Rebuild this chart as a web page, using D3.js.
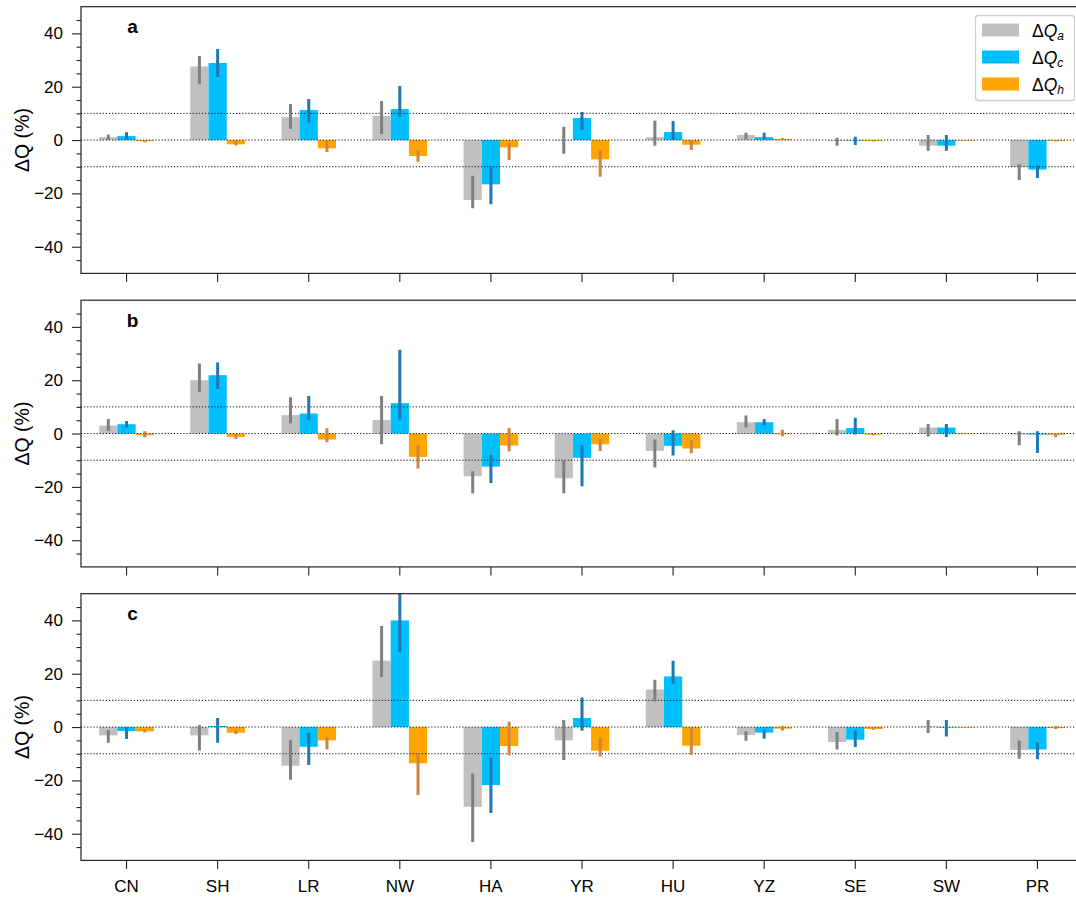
<!DOCTYPE html>
<html>
<head>
<meta charset="utf-8">
<script src="https://cdn.jsdelivr.net/npm/d3@7"></script>
<style>
  html, body { margin: 0; padding: 0; background: #fff; }
  svg { display: block; font-family: "Liberation Sans", Arial, sans-serif; }
</style>
</head>
<body>
<svg id="chart" width="1076" height="899"></svg>
<script>
// ---------------- DATA ----------------
const categories = ["CN","SH","LR","NW","HA","YR","HU","YZ","SE","SW","PR"];
const seriesKeys = ["Qa","Qc","Qh"];
const seriesSubs = ["a","c","h"];
const panelLabels = ["a","b","c"];
const yMajorTicks = [-40,-20,0,20,40];
const refLines = [-10,0,10];

// Panel a
const a_Qa = [1.1, 27.6, 8.6, 9.0, -22.5, 0, 1.1, 1.9, -0.3, -2.1, -10.1];
const a_Qa_err = [[0,2.1],[20.9,31.5],[4.25,13.5],[2.25,14.6],[-25.6,-13.4],[-5.1,5],[-2.1,7.25],[0.3,2.7],[-2.1,0.9],[-4,1.9],[-15,-9.1]];
const a_Qc = [1.5, 28.9, 11.25, 11.6, -16.6, 8.25, 3.0, 1.1, 0, -2.1, -11.1];
const a_Qc_err = [[0.25,2.9],[23.6,34.1],[6.6,15.4],[8.75,20.25],[-24.1,-9.75],[3.75,10.5],[0.25,7.1],[0.25,2.75],[-1.9,1.25],[-4,1.9],[-14.25,-9.5]];
const a_Qh = [-0.4, -1.6, -3.1, -6.0, -2.75, -7.25, -1.75, 0.4, -0.3, 0, -0.3];
const a_Qh_err = [[-0.8,-0.2],[-2,-0.25],[-4.5,-0.25],[-8.1,-4],[-7.5,-1],[-13.75,-3.75],[-3.75,0],[0.1,0.8],[-0.5,-0.1],[0,0],[-0.5,-0.1]];

// Panel b
const b_Qa = [3.0, 20.0, 6.9, 5.1, -16, -16.75, -6.5, 4.25, 1.4, 2.25, -0.4];
const b_Qa_err = [[1,5.5],[15.6,26.25],[3.9,13.6],[-4,14.1],[-22.4,-14.1],[-22.4,-10.1],[-12.75,-2.25],[2.25,6.75],[-0.75,5.5],[-1.1,3.6],[-4.4,0.9]];
const b_Qc = [3.5, 21.9, 7.5, 11.4, -12.4, -9.1, -4.6, 4.25, 2.1, 2.25, -0.4];
const b_Qc_err = [[2.25,4.75],[16.75,26.6],[5,14.1],[5.25,31.4],[-18.5,-8],[-19.75,-4.4],[-8.25,1.25],[3.1,5.5],[-0.4,5.9],[-1.25,3.6],[-7.25,0.9]];
const b_Qh = [-0.6, -1.25, -2.25, -8.75, -4.5, -4.0, -5.6, -0.3, -0.4, 0, -0.5];
const b_Qh_err = [[-1.4,0.9],[-2,-0.25],[-3.25,2],[-13.1,-4.5],[-6.6,2.1],[-6.5,-2],[-7.4,-2.4],[-1,1.4],[-0.6,-0.2],[0,0],[-1.4,0]];

// Panel c
const c_Qa = [-3.1, -3.1, -14.5, 24.9, -29.9, -5, 14.1, -3, -5.6, 0.3, -8.6];
const c_Qa_err = [[-5.9,-1.1],[-8.75,0.75],[-19.75,-4.75],[18.75,37.9],[-43.1,-17.4],[-12.4,2.6],[9.6,17.75],[-5.1,-1.6],[-8.4,-1.9],[-2.25,2.6],[-11.9,-5]];
const c_Qc = [-1.5, 0.4, -7.4, 40, -21.75, 3.4, 19, -2.1, -4.75, -0.2, -8.4];
const c_Qc_err = [[-4.5,0],[-5.9,3.4],[-14.25,-2.1],[28,52],[-32.25,-11.4],[-1.4,11.1],[16.25,24.9],[-4.4,-0.9],[-7.5,-1.25],[-3.5,2.6],[-12.1,-5.75]];
const c_Qh = [-1.6, -2.1, -5, -13.6, -7.1, -8.9, -7, -0.6, -0.75, 0, -0.4];
const c_Qh_err = [[-2,-0.9],[-2.6,-1.25],[-8.4,-3.6],[-25.5,-9.75],[-10.6,2],[-11,-3.9],[-10.4,-0.5],[-1.25,0.5],[-1,-0.5],[0,0],[-0.75,0.4]];

// ---------------- BUILD ----------------
const panels = [
  {label: panelLabels[0], vals: [a_Qa, a_Qc, a_Qh], errs: [a_Qa_err, a_Qc_err, a_Qh_err]},
  {label: panelLabels[1], vals: [b_Qa, b_Qc, b_Qh], errs: [b_Qa_err, b_Qc_err, b_Qh_err]},
  {label: panelLabels[2], vals: [c_Qa, c_Qc, c_Qh], errs: [c_Qa_err, c_Qc_err, c_Qh_err]}
];

const barColors = ["#c0c0c0", "#00bfff", "#ffa500"];
const errColors = ["#7f7f7f", "#1f77b4", "#cd853f"];
const FONT = "Liberation Sans, Arial, sans-serif";

const svg = d3.select("#chart");
const left = 81, right = 1083;
const panelTops = [6.7, 300.2, 593.7];
const ph = 266.7;

const x = d3.scaleBand().domain(categories).range([left, right]).padding(0);
const bw = x.bandwidth();
const xs = d3.scaleBand().domain(seriesKeys).range([-0.3 * bw, 0.3 * bw]).padding(0);

panels.forEach((p, pi) => {
  const top = panelTops[pi];
  const y = d3.scaleLinear().domain([-50, 50]).range([top + ph, top]);
  const g = svg.append("g");

  const clipId = "clip" + pi;
  svg.append("clipPath").attr("id", clipId)
    .append("rect").attr("x", left).attr("y", top).attr("width", right - left).attr("height", ph);

  const plot = g.append("g").attr("clip-path", `url(#${clipId})`);

  // bars
  seriesKeys.forEach((s, si) => {
    const data = categories.map((c, i) => ({c, v: p.vals[si][i]}));
    plot.append("g").selectAll("rect").data(data).join("rect")
      .attr("x", d => x(d.c) + bw / 2 + xs(s))
      .attr("width", xs.bandwidth())
      .attr("y", d => y(Math.max(0, d.v)))
      .attr("height", d => Math.max(0.6, Math.abs(y(d.v) - y(0))))
      .attr("fill", barColors[si]);
  });

  // reference dotted lines
  plot.append("g").selectAll("line").data(refLines).join("line")
    .attr("x1", left).attr("x2", right)
    .attr("y1", d => y(d)).attr("y2", d => y(d))
    .attr("stroke", "#111").attr("stroke-width", 1)
    .attr("stroke-dasharray", "1.2,1.9");

  // error bars
  seriesKeys.forEach((s, si) => {
    const data = categories.map((c, i) => ({c, e: p.errs[si][i]}));
    plot.append("g").selectAll("line").data(data.filter(d => d.e[1] - d.e[0] > 0)).join("line")
      .attr("x1", d => x(d.c) + bw / 2 + xs(s) + xs.bandwidth() / 2)
      .attr("x2", d => x(d.c) + bw / 2 + xs(s) + xs.bandwidth() / 2)
      .attr("y1", d => y(d.e[0]))
      .attr("y2", d => y(d.e[1]))
      .attr("stroke", errColors[si]).attr("stroke-width", 3);
  });

  // y axis: major
  const yMajor = d3.axisLeft(y).tickValues(yMajorTicks).tickSize(9).tickPadding(9);
  const ga = g.append("g").attr("transform", `translate(${left},0)`).call(yMajor);
  ga.select(".domain").remove();
  ga.selectAll("text").attr("font-size", 17).attr("fill", "#000").attr("font-family", FONT);
  ga.selectAll("line").attr("stroke", "#222").attr("stroke-width", 1.1);

  // y axis: minor
  const minorVals = d3.range(-45, 50, 5).filter(v => !yMajorTicks.includes(v));
  const yMinor = d3.axisLeft(y).tickValues(minorVals).tickSize(4.5).tickFormat("");
  const gm = g.append("g").attr("transform", `translate(${left},0)`).call(yMinor);
  gm.select(".domain").remove();
  gm.selectAll("line").attr("stroke", "#222").attr("stroke-width", 1.1);

  // x axis
  const xAxis = d3.axisBottom(x).tickSize(8.5).tickPadding(11);
  if (pi < 2) xAxis.tickFormat("");
  const gx = g.append("g").attr("transform", `translate(0,${top + ph})`).call(xAxis);
  gx.select(".domain").remove();
  gx.selectAll("text").attr("font-size", 17).attr("fill", "#000").attr("font-family", FONT);
  gx.selectAll("line").attr("stroke", "#222").attr("stroke-width", 1.1);

  // frame
  g.append("rect").attr("x", left).attr("y", top).attr("width", right - left).attr("height", ph)
    .attr("fill", "none").attr("stroke", "#222").attr("stroke-width", 1.2);

  // y label
  const yl = g.append("text")
    .attr("transform", `translate(24,${top + ph / 2}) rotate(-90)`)
    .attr("text-anchor", "middle").attr("dominant-baseline", "middle")
    .attr("font-size", 19.5).attr("fill", "#000").attr("font-family", FONT);
  yl.append("tspan").text("ΔQ (%)");

  // panel letter
  g.append("text").attr("x", 132.5).attr("y", top + 26.5)
    .attr("text-anchor", "middle").attr("font-weight", "bold").attr("font-size", 19)
    .attr("fill", "#000").attr("font-family", FONT).text(p.label);

  // legend (panel a only)
  if (pi === 0) {
    const lg = g.append("g");
    lg.append("rect").attr("x", 975.5).attr("y", 15.5).attr("width", 99).attr("height", 85)
      .attr("rx", 3).attr("fill", "#fff").attr("fill-opacity", 0.85)
      .attr("stroke", "#d0d0d0").attr("stroke-width", 1.3);
    seriesKeys.forEach((s, si) => {
      const cy = 30 + si * 27;
      lg.append("rect").attr("x", 982).attr("y", cy - 6.5).attr("width", 37).attr("height", 13)
        .attr("fill", barColors[si]);
      const t = lg.append("text").attr("x", 1032).attr("y", cy + 6.5)
        .attr("font-size", 17.5).attr("fill", "#000").attr("font-family", FONT);
      t.append("tspan").text("Δ");
      t.append("tspan").attr("font-style", "italic").text("Q");
      t.append("tspan").attr("font-style", "italic").attr("font-size", 12)
        .attr("dy", 3.5).text(seriesSubs[si]);
    });
  }
});
</script>
</body>
</html>
